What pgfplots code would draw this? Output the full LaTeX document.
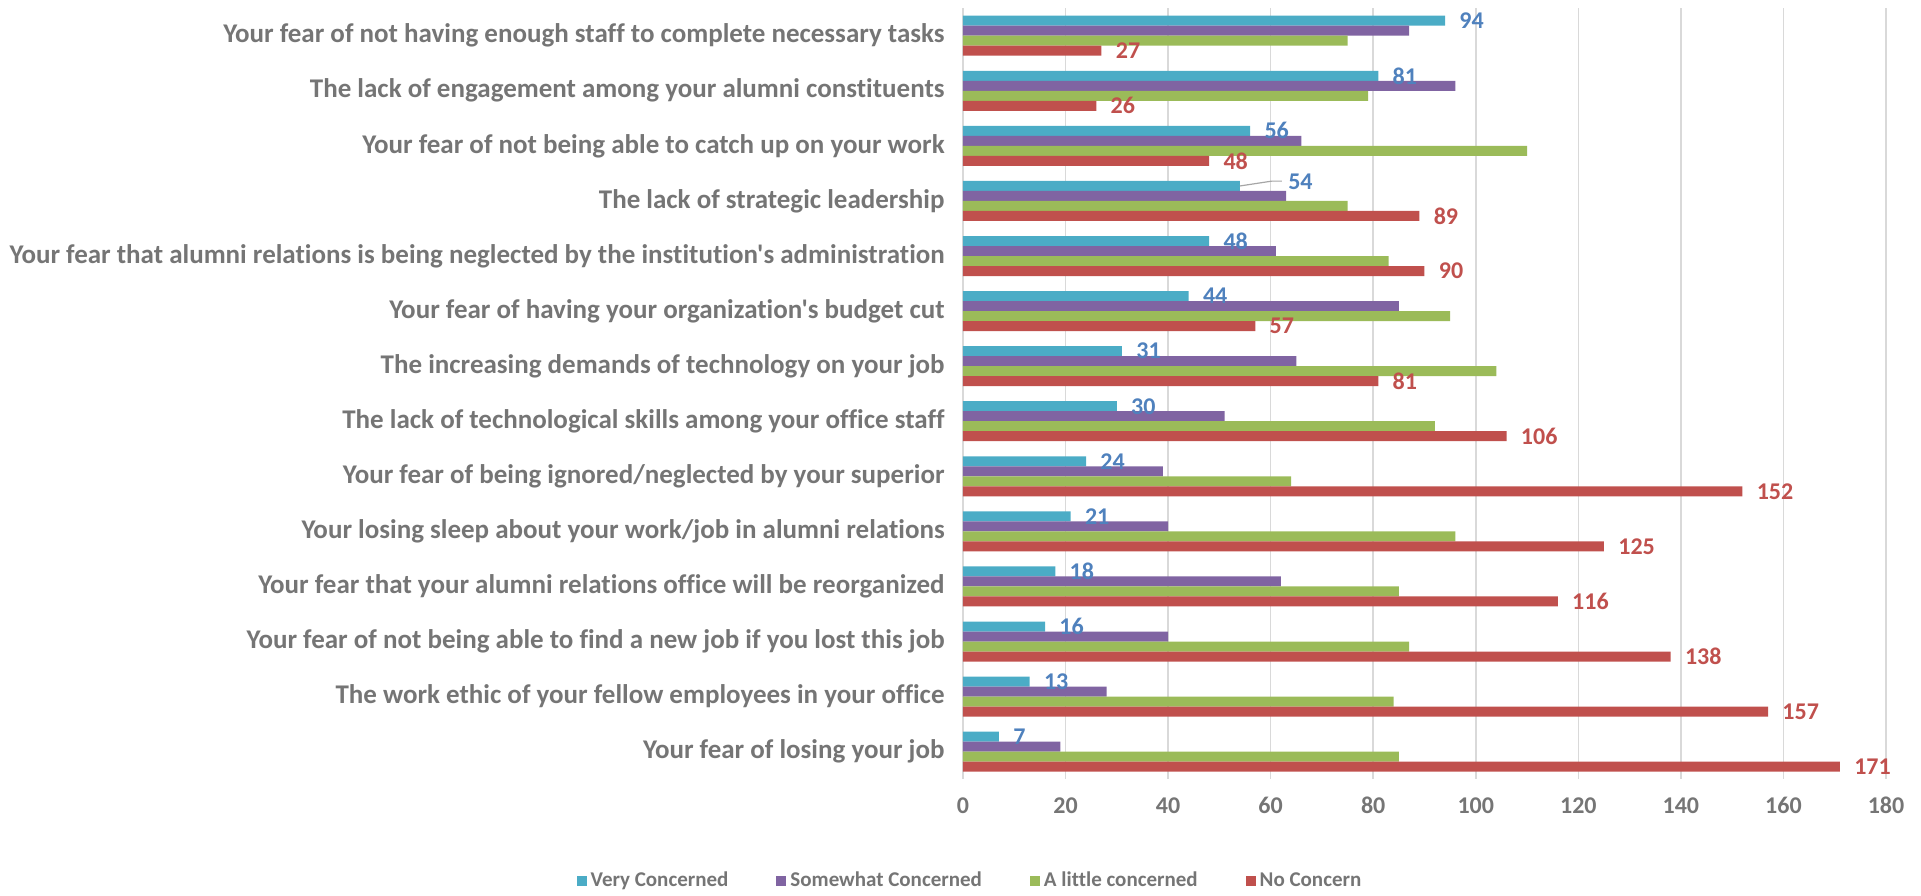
\documentclass[border=0pt]{standalone}
\usepackage{fontspec}
\setmainfont{Carlito}[Ligatures={TeXOff,NoCommon}]
\usepackage{pgfplots}
\pgfplotsset{compat=1.18}
\usepackage{pgfplotstable}

\definecolor{vc}{HTML}{4BACC6}
\definecolor{sc}{HTML}{8064A2}
\definecolor{lc}{HTML}{9BBB59}
\definecolor{nc}{HTML}{C0504D}
\definecolor{vctxt}{HTML}{4F81BD}
\definecolor{txt}{HTML}{757575}
\definecolor{gridc}{HTML}{D9D9D9}

% rows top to bottom; dx/dy move a data label (pt)
\pgfplotstableread{
idx vc sc lc nc dx dy
0 94 87 75 27 0 0
1 81 96 79 26 0 0
2 56 66 110 48 0 0
3 54 63 75 89 17 2
4 48 61 83 90 0 0
5 44 85 95 57 0 0
6 31 65 104 81 0 0
7 30 51 92 106 0 0
8 24 39 64 152 0 0
9 21 40 96 125 0 0
10 18 62 85 116 0 0
11 16 40 87 138 0 0
12 13 28 84 157 0 0
13 7 19 85 171 0 0
}\data

\begin{document}
\begin{tikzpicture}[x=1pt,y=1pt]
\path[use as bounding box] (-481.5,-57.9) rectangle (479,389.6);
\begin{axis}[
    at={(0,0)}, anchor=south west,
    scale only axis,
    width=461.5pt, height=385.5pt,
    xbar=0pt, bar width=0.1816,
    xmin=0, xmax=180,
    ymin=-0.5, ymax=13.5,
    y dir=reverse,
    xtick={0,20,...,180},
    ytick={0,...,13},
    yticklabels={
        Your fear of not having enough staff to complete necessary tasks,
        The lack of engagement among your alumni constituents,
        Your fear of not being able to catch up on your work,
        The lack of strategic leadership,
        Your fear that alumni relations is being neglected by the institution's administration,
        Your fear of having your organization's budget cut,
        The increasing demands of technology on your job,
        The lack of technological skills among your office staff,
        Your fear of being ignored/neglected by your superior,
        Your losing sleep about your work/job in alumni relations,
        Your fear that your alumni relations office will be reorganized,
        Your fear of not being able to find a new job if you lost this job,
        The work ethic of your fellow employees in your office,
        Your fear of losing your job},
    axis line style={draw=none},
    major tick length=0pt,
    xmajorgrids,
    grid style={draw=gridc, line width=0.8pt},
    /pgf/number format/assume math mode=true,
    ticklabel style={font=\fontsize{12}{14}\selectfont\bfseries, text=txt},
    yticklabel style={anchor=east, inner sep=0pt, xshift=-9pt,
        font=\fontsize{13.5}{15}\selectfont\bfseries},
    xticklabel style={anchor=center, inner sep=0pt, yshift=-13pt},
    legend style={at={(0.0087,-0.132)}, anchor=center, draw=none,
        legend columns=4, font=\fontsize{10.5}{12}\selectfont\bfseries, text=txt,
        /tikz/every even column/.append style={column sep=22pt}},
    legend image code/.code={\fill[#1] (0pt,-2.5pt) rectangle (5pt,2.5pt);},
    visualization depends on={\thisrow{dx} \as \dx},
    visualization depends on={\thisrow{dy} \as \dy},
]
\addplot[fill=vc, draw=none,
    nodes near coords,
    every node near coord/.append style={anchor=west, inner sep=0pt,
        xshift={(7+\dx)*1pt}, yshift={\dy*1pt},
        font=\fontsize{12}{14}\selectfont\bfseries, text=vctxt}]
    table[x=vc, y=idx] {\data};
\addplot[fill=sc, draw=none] table[x=sc, y=idx] {\data};
\addplot[fill=lc, draw=none] table[x=lc, y=idx] {\data};
\addplot[fill=nc, draw=none,
    nodes near coords,
    every node near coord/.append style={anchor=west, inner sep=0pt,
        xshift=7pt, font=\fontsize{12}{14}\selectfont\bfseries, text=nc}]
    table[x=nc, y=idx] {\data};
% leader line of the moved label
\draw[gray!70, line width=0.6pt] (axis cs:54,2.728) -- (axis cs:60.2,2.64) -- (axis cs:62.2,2.64);
\legend{Very Concerned, Somewhat Concerned, A little concerned, No Concern}
\end{axis}
\end{tikzpicture}
\end{document}
